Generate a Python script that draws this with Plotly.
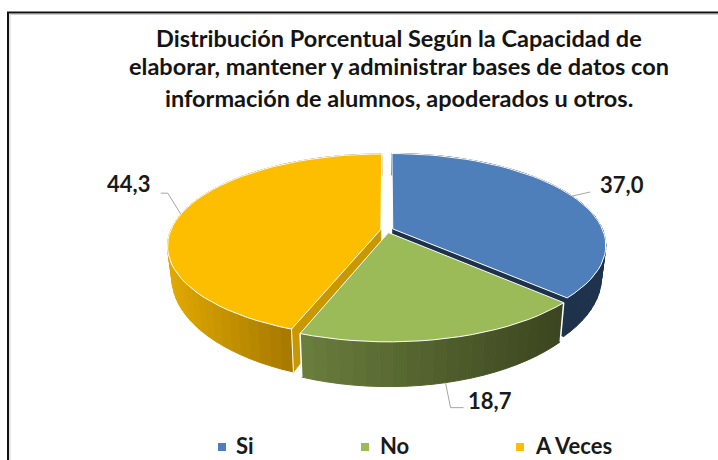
import math
import plotly.graph_objects as go

# --- data ---
categories = ["Si", "No", "A Veces"]
values = [37.0, 18.7, 44.3]
value_labels = ["37,0", "18,7", "44,3"]
title_lines = [
    "Distribución Porcentual Según la Capacidad de",
    "elaborar, mantener y administrar bases de datos con",
    "información de alumnos, apoderados u otros.",
]

# --- styles ---
top_colors = ["#4E7FBA", "#9BBB59", "#FDBE00"]
wall_left = [(30, 50, 76), (108, 128, 62), (226, 170, 0)]
wall_right = [(30, 50, 76), (60, 70, 32), (168, 122, 0)]
radial_colors = ["#1E324C", "#3C4620", "#C99700"]
legend_colors = top_colors

# pie projection (pixels on a 718x460 canvas)
CX, CY, RX, RY, K, EXPLODE, DEPTH, BOTTOM_SCALE = 387, 230, 210, 89, 0.176, 0.03, 30, 0.98


def project(u, v, level=0.0):
    """Map a point of the unit disc to the canvas, with perspective; level 1 = bottom face."""
    w = 1 + K * v
    scale = 1 - (1 - BOTTOM_SCALE) * level
    return (CX + RX * scale * u / w, CY - RY * v / w + level * DEPTH / w ** 2)


def disc(angle, r, mid):
    """Clockwise-from-top angle on slice exploded along its bisector `mid`."""
    a, m = math.radians(angle), math.radians(mid)
    return (r * math.sin(a) + EXPLODE * math.sin(m), r * math.cos(a) + EXPLODE * math.cos(m))


def poly(points, fill, line=None, width=1):
    xs = [p[0] for p in points] + [points[0][0]]
    ys = [p[1] for p in points] + [points[0][1]]
    return go.Scatter(x=xs, y=ys, mode="lines", fill="toself", fillcolor=fill,
                      line=dict(color=line or fill, width=width),
                      hoverinfo="skip", showlegend=False)


def stroke(points, color="white", width=1):
    return go.Scatter(x=[p[0] for p in points], y=[p[1] for p in points], mode="lines",
                      line=dict(color=color, width=width), hoverinfo="skip", showlegend=False)


fig = go.Figure()

# slice extents, clockwise from the top
total = sum(values)
spans = []
start = 0.0
for val in values:
    end = start + val / total * 360
    spans.append((start, end))
    start = end

STEP = 3
anchors = {}
for i in [0, 2, 1]:  # back to front: Si, A Veces, No
    a0, a1 = spans[i]
    mid = (a0 + a1) / 2
    n = max(2, int((a1 - a0) / STEP))
    angles = [a0 + (a1 - a0) * j / n for j in range(n + 1)]
    # outer wall: horizontal shading along the slice
    edge_top = [project(*disc(a, 1, mid)) for a in angles]
    edge_bot = [project(*disc(a, 1, mid), 1) for a in angles]
    xs = [p[0] for p in edge_top]
    front = [j for j in range(n + 1) if math.cos(math.radians(angles[j])) < 0.35]
    xmin, xmax = min(xs[j] for j in front), max(xs[j] for j in front)
    for j in range(n):
        t = min(1, max(0, (xs[j] - xmin) / (xmax - xmin)))
        c = tuple(int(wall_left[i][q] + (wall_right[i][q] - wall_left[i][q]) * t) for q in range(3))
        col = f"rgb({c[0]},{c[1]},{c[2]})"
        fig.add_trace(poly([edge_top[j], edge_top[j + 1], edge_bot[j + 1], edge_bot[j]], col))
    # radial walls facing the viewer
    apex_t = project(*disc(0, 0, mid))
    apex_b = project(*disc(0, 0, mid), 1)
    if i == 0:
        fig.add_trace(poly([apex_t, edge_top[-1], edge_bot[-1], apex_b], radial_colors[i]))
    if i == 2:
        fig.add_trace(poly([apex_t, edge_top[0], edge_bot[0], apex_b], radial_colors[i]))
        fig.add_trace(stroke([edge_top[0], edge_bot[0]]))
    if i == 1:
        fig.add_trace(stroke([edge_top[0], edge_bot[0]], width=1.5))
        fig.add_trace(stroke([edge_top[-1], edge_bot[-1]], width=1.5))
    # top face
    fig.add_trace(poly([apex_t] + edge_top, top_colors[i], line="white", width=1))
    anchors[i] = project(*disc(mid, 1, mid), 1 if i == 1 else 0)

# leader lines, elbows relative to the slice anchors
leaders = {0: [(18, -4)], 1: [(5, 25), (18, 25)], 2: [(-13, -21), (-20, -21)]}
label_offset = {0: (50, -12), 1: (44, 18), 2: (-52, -31)}
for i, bends in leaders.items():
    ax, ay = anchors[i]
    pts = [(ax, ay)] + [(ax + dx, ay + dy) for dx, dy in bends]
    fig.add_trace(stroke(pts, color="#A6A6A6", width=1))
    fig.add_annotation(x=ax + label_offset[i][0], y=ay + label_offset[i][1], text=f"<b>{value_labels[i]}</b>",
                       showarrow=False, font=dict(family="Lato", size=22, color="#1A1A1A"))

# title, one centred line per row
for line, y in zip(title_lines, [38, 66, 98]):
    fig.add_annotation(x=398.5, y=y, text=f"<b>{line}</b>", showarrow=False,
                       font=dict(family="Lato", size=23.5, color="#141414"))

# legend
for name, col, x, tx in zip(categories, legend_colors, [222, 365, 520], [234, 378, 533]):
    fig.add_trace(go.Scatter(x=[x], y=[447], mode="markers", name=name, showlegend=False,
                             marker=dict(symbol="square", size=8, color=col), hoverinfo="skip"))
    fig.add_annotation(x=tx, y=445, text=f"<b>{name}</b>", showarrow=False, xanchor="left",
                       font=dict(family="Lato", size=22, color="#1A1A1A"))

fig.update_layout(
    width=718, height=460, autosize=False,
    margin=dict(l=0, r=0, t=0, b=0),
    paper_bgcolor="white", plot_bgcolor="white", showlegend=False,
    xaxis=dict(range=[0, 718], visible=False, fixedrange=True),
    yaxis=dict(range=[460, 0], visible=False, fixedrange=True),
    shapes=[
        dict(type="line", xref="paper", yref="paper", x0=10 / 718, x1=1, y0=1 - 14.5 / 460, y1=1 - 14.5 / 460,
             line=dict(color="#CFCFCF", width=1)),
        dict(type="line", xref="paper", yref="paper", x0=10 / 718, x1=10 / 718, y0=0, y1=1 - 14.5 / 460,
             line=dict(color="#CFCFCF", width=1)),
        dict(type="line", xref="paper", yref="paper", x0=7 / 718, x1=1, y0=1 - 12.5 / 460, y1=1 - 12.5 / 460,
             line=dict(color="#111111", width=2)),
        dict(type="line", xref="paper", yref="paper", x0=8 / 718, x1=8 / 718, y0=0, y1=1 - 12 / 460,
             line=dict(color="#111111", width=2)),
    ],
)

fig.write_html("out.html", post_script="document.body.style.margin='0';document.body.style.overflow='hidden';",
               config={"displayModeBar": False})
